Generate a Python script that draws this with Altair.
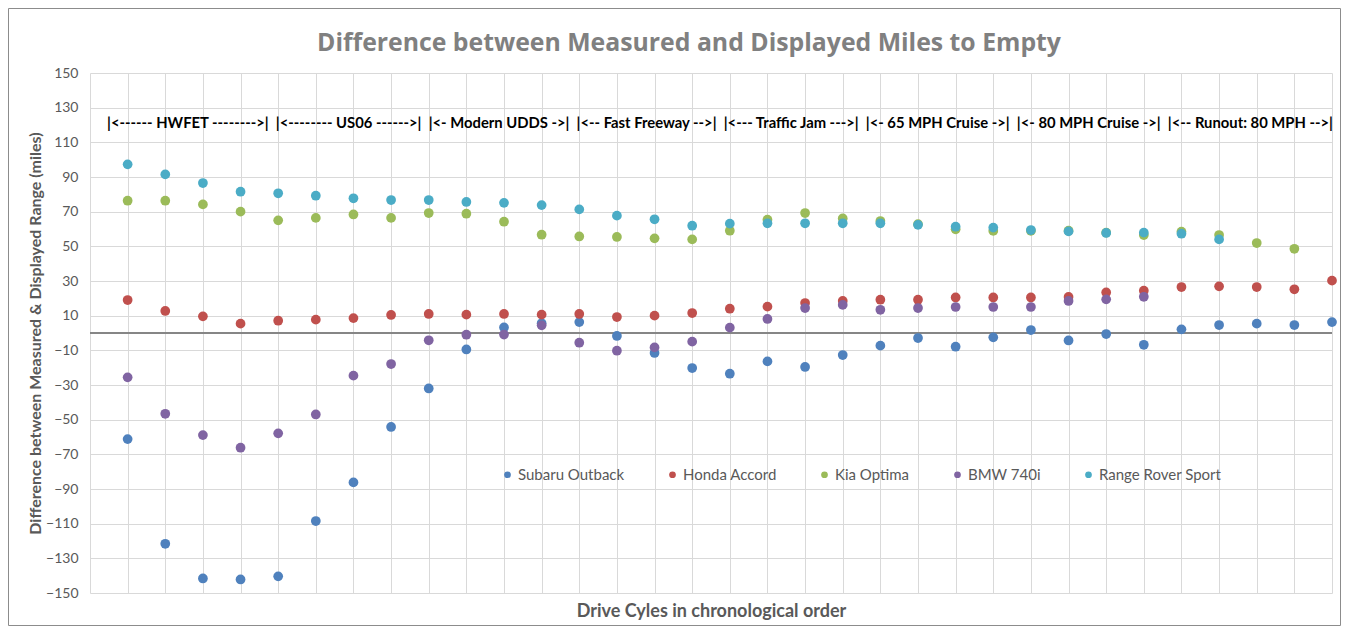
import altair as alt
import pandas as pd

cycles = list(range(1, 34))
series_names = ["Subaru Outback", "Honda Accord", "Kia Optima", "BMW 740i", "Range Rover Sport"]
colors = ["#4F81BD", "#C0504D", "#9BBB59", "#8064A2", "#4BACC6"]

subaru = [-61.2, -121.6, -141.6, -142.2, -140.4, -108.5, -86.2, -54.2, -32.0, -9.5,
          3.2, 5.6, 6.3, -1.7, -11.5, -20.2, -23.5, -16.4, -19.6, -12.7,
          -7.3, -2.9, -7.9, -2.5, 1.7, -4.3, -0.6, -6.8, 2.1, 4.6,
          5.4, 4.6, 6.3]
honda = [19.0, 12.7, 9.6, 5.4, 7.1, 7.7, 8.6, 10.4, 11.0, 10.6,
         11.0, 10.6, 11.0, 9.2, 10.0, 11.5, 14.0, 15.2, 17.3, 18.5,
         19.2, 19.2, 20.5, 20.5, 20.5, 20.8, 23.4, 24.4, 26.5, 26.9,
         26.5, 25.2, 30.2]
kia = [76.3, 76.3, 74.2, 70.0, 65.0, 66.4, 68.4, 66.4, 69.2, 68.8,
       64.2, 56.7, 55.7, 55.4, 54.6, 54.0, 59.0, 65.4, 69.2, 66.1,
       64.6, 62.8, 59.8, 58.9, 58.9, 59.0, 57.9, 56.5, 58.5, 56.5,
       51.9, 48.6, None]
bmw = [-25.6, -46.6, -58.9, -66.2, -57.9, -47.0, -24.6, -17.9, -4.2, -1.0,
       -0.9, 4.4, -5.6, -10.2, -8.3, -5.0, 3.1, 8.1, 14.4, 16.2,
       13.4, 14.4, 15.0, 15.0, 15.0, 18.5, 19.4, 20.9, None, None,
       None, None, None]
rover = [97.3, 91.5, 86.5, 81.5, 80.6, 79.2, 77.7, 76.7, 76.7, 75.6,
         75.1, 73.8, 71.3, 67.7, 65.6, 61.9, 63.1, 63.3, 63.3, 63.3,
         63.3, 62.4, 61.3, 60.8, 59.4, 58.6, 57.7, 57.9, 57.3, 54.0,
         None, None, None]

x_ticks = list(range(0, 34))
y_ticks = list(range(-150, 151, 20))

chart_title = "Difference between Measured and Displayed Miles to Empty"
sp = "\u00a0"
banner = (sp * 2).join([
    "|<------ HWFET -------->|",
    "|<-------- US06 ------>|",
    "|<- Modern UDDS ->|",
    "|<-- Fast Freeway -->|",
    "|<--- Traffic Jam --->|",
    "|<- 65 MPH Cruise ->|",
    "|<- 80 MPH Cruise ->|",
    "|<-- Runout: 80 MPH -->|",
])

rows = []
for name, vals in zip(series_names, [subaru, honda, kia, bmw, rover]):
    for c, v in zip(cycles, vals):
        if v is not None:
            rows.append({"cycle": c, "value": v, "series": name})
df = pd.DataFrame(rows)

FONT = "Lato"
GRAY = "#595959"

x_enc = alt.X(
    "cycle:Q",
    scale=alt.Scale(domain=[0, 33], nice=False, zero=False),
    axis=alt.Axis(values=x_ticks, tickCount=40, labels=False, ticks=False, domain=False,
                  grid=True, gridColor="#D9D9D9", title="Drive Cyles in chronological order",
                  titleFont=FONT, titleFontSize=18, titleFontWeight="bold",
                  titleColor=GRAY, titleX=621, titleY=18, titleAlign="center",
                  titleBaseline="middle"),
)
y_enc = alt.Y(
    "value:Q",
    scale=alt.Scale(domain=[-150, 150], nice=False),
    axis=alt.Axis(values=y_ticks, tickCount=20, ticks=False, domain=False, grid=True,
                  gridColor="#D9D9D9",
                  labelFont=FONT, labelFontSize=14, labelColor=GRAY, labelPadding=12,
                  labelOverlap=False, labelFlush=False,
                  title="Difference between Measured & Displayed Range (miles)",
                  titleFont=FONT, titleFontSize=16, titleFontWeight="bold",
                  titleColor=GRAY, titleX=-55, titleY=260, titleAngle=270,
                  titleAlign="center", titleBaseline="middle"),
)

points = alt.Chart(df).mark_circle(size=95, opacity=1).encode(
    x=x_enc,
    y=y_enc,
    color=alt.Color("series:N", scale=alt.Scale(domain=series_names, range=colors),
                    legend=alt.Legend(title=None, orient="none", legendX=410, legendY=394,
                                      direction="horizontal", symbolType="circle",
                                      symbolSize=45, symbolOpacity=1, labelFont=FONT,
                                      labelFontSize=15, labelColor=GRAY, columnPadding=40,
                                      labelOffset=3, padding=0)),
)

zero_line = alt.Chart(alt.Data(values=[{"v": 0}])).mark_rule(
    color="#868686", strokeWidth=2
).encode(y=alt.Y("v:Q"))

banner_text = alt.Chart(alt.Data(values=[{"t": banner}])).mark_text(
    font=FONT, fontSize=14.8, fontWeight="bold", color="#000000", align="center",
    baseline="middle"
).encode(text="t:N", x=alt.value(630), y=alt.value(51))

title_text = alt.Chart(alt.Data(values=[{"t": chart_title}])).mark_text(
    font="Open Sans", fontSize=24.8, fontWeight="bold", color="#808080", align="center",
    baseline="middle"
).encode(text="t:N", x=alt.value(599), y=alt.value(-29))

border = alt.Chart(alt.Data(values=[{"a": 1}])).mark_rect(
    filled=False, stroke="#8C8C8C", strokeWidth=1
).encode(x=alt.value(-81.5), x2=alt.value(1250.5), y=alt.value(-64.5), y2=alt.value(552.5))

chart = alt.layer(border, zero_line, points, banner_text, title_text).properties(
    width=1242,
    height=520,
    padding={"left": 82, "top": 65, "right": 9, "bottom": 33},
    autosize=alt.AutoSizeParams(type="none"),
).configure_view(strokeWidth=0)

chart.save("out.html", embed_options={"renderer": "svg", "actions": False})
